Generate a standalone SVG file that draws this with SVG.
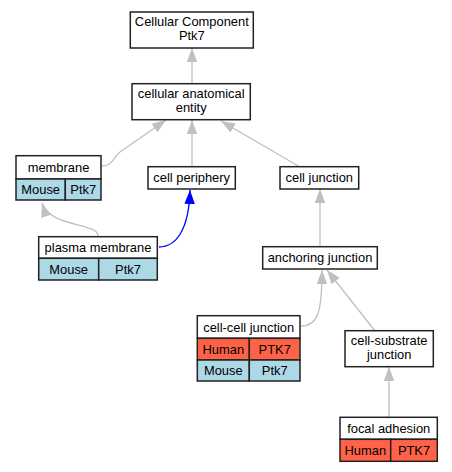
<svg xmlns="http://www.w3.org/2000/svg" width="452" height="472" viewBox="0 0 452 472">
<style>
text{font-family:"Liberation Sans",Arial,sans-serif;font-size:12.9px;fill:#000;text-anchor:middle}
.box{fill:#fff;stroke:#222;stroke-width:1.5}
.hum{fill:#ff6347;stroke:#222;stroke-width:1.5}
.mou{fill:#add8e6;stroke:#222;stroke-width:1.5}
.e{fill:none;stroke:#c0c0c0;stroke-width:1.3}
.b{fill:none;stroke:#0000ff;stroke-width:1.3}
</style>
<defs>
<marker id="ag" markerUnits="userSpaceOnUse" markerWidth="14" markerHeight="11" refX="14" refY="5.25" orient="auto" viewBox="0 0 14 10.5"><path d="M0,0 L14,5.25 L0,10.5 z" fill="#c0c0c0"/></marker>
<marker id="ab" markerUnits="userSpaceOnUse" markerWidth="14" markerHeight="11" refX="14" refY="5.25" orient="auto" viewBox="0 0 14 10.5"><path d="M0,0 L14,5.25 L0,10.5 z" fill="#0000ff"/></marker>
</defs>
<rect width="452" height="472" fill="#fff"/>
<g id="edges">
<path class="e" d="M192,84 L192,48" marker-end="url(#ag)"/>
<path class="e" d="M102,166 C112,166 113,158 120,152 L166,120" marker-end="url(#ag)"/>
<path class="e" d="M192,167 L192,120" marker-end="url(#ag)"/>
<path class="e" d="M300,167 L221,121" marker-end="url(#ag)"/>
<path class="e" d="M98,236 C98,222 50,228 42,203" marker-end="url(#ag)"/>
<path class="b" d="M159,247 C176,247 189,230 190,190" marker-end="url(#ab)"/>
<path class="e" d="M320,247 L320,189" marker-end="url(#ag)"/>
<path class="e" d="M301,326 C318,326 322,312 322,270" marker-end="url(#ag)"/>
<path class="e" d="M375,331 L327,270" marker-end="url(#ag)"/>
<path class="e" d="M389,417 L389,367" marker-end="url(#ag)"/>
</g>
<g id="n_top">
<rect class="box" x="130.3" y="12" width="123" height="36"/>
<text x="191.8" y="25.8">Cellular Component</text>
<text x="191.8" y="40.3">Ptk7</text>
</g>
<g id="n_cae">
<rect class="box" x="132" y="83.7" width="118.3" height="36"/>
<text x="191.2" y="97.7">cellular anatomical</text>
<text x="191.2" y="112.2">entity</text>
</g>
<g id="n_membrane">
<rect class="box" x="16" y="155.7" width="85" height="23.3"/>
<rect class="mou" x="16" y="179" width="49.3" height="21"/>
<rect class="mou" x="65.3" y="179" width="35.7" height="21"/>
<text x="58.5" y="172">membrane</text>
<text x="40.7" y="194">Mouse</text>
<text x="83.2" y="194">Ptk7</text>
</g>
<g id="n_periphery">
<rect class="box" x="148" y="166.7" width="87.3" height="22.3"/>
<text x="191.7" y="182.3">cell periphery</text>
</g>
<g id="n_celljunction">
<rect class="box" x="280" y="166.7" width="78.7" height="22.3"/>
<text x="319.3" y="182.3">cell junction</text>
</g>
<g id="n_plasma">
<rect class="box" x="38.7" y="236.7" width="118.6" height="21.6"/>
<rect class="mou" x="38.7" y="258.3" width="60" height="21.7"/>
<rect class="mou" x="98.7" y="258.3" width="58.6" height="21.7"/>
<text x="98" y="252">plasma membrane</text>
<text x="68.7" y="273.7">Mouse</text>
<text x="128" y="273.7">Ptk7</text>
</g>
<g id="n_anchoring">
<rect class="box" x="262.7" y="246.7" width="114.6" height="22.3"/>
<text x="320" y="262.3">anchoring junction</text>
</g>
<g id="n_cellcell">
<rect class="box" x="197.3" y="315.7" width="102.7" height="22.6"/>
<rect class="hum" x="197.3" y="338.3" width="52" height="21.7"/>
<rect class="hum" x="249.3" y="338.3" width="50.7" height="21.7"/>
<rect class="mou" x="197.3" y="360" width="52" height="21"/>
<rect class="mou" x="249.3" y="360" width="50.7" height="21"/>
<text x="248.7" y="331.5">cell-cell junction</text>
<text x="223.3" y="353.7">Human</text>
<text x="274.7" y="353.7">PTK7</text>
<text x="223.3" y="375">Mouse</text>
<text x="274.7" y="375">Ptk7</text>
</g>
<g id="n_substrate">
<rect class="box" x="345" y="330.7" width="88.3" height="36"/>
<text x="389.2" y="344.5">cell-substrate</text>
<text x="389.2" y="359">junction</text>
</g>
<g id="n_focal">
<rect class="box" x="340" y="417.3" width="97.3" height="22"/>
<rect class="hum" x="340" y="439.3" width="50.7" height="22"/>
<rect class="hum" x="390.7" y="439.3" width="46.6" height="22"/>
<text x="388.7" y="432.8">focal adhesion</text>
<text x="365.3" y="454.8">Human</text>
<text x="414" y="454.8">PTK7</text>
</g>
</svg>
